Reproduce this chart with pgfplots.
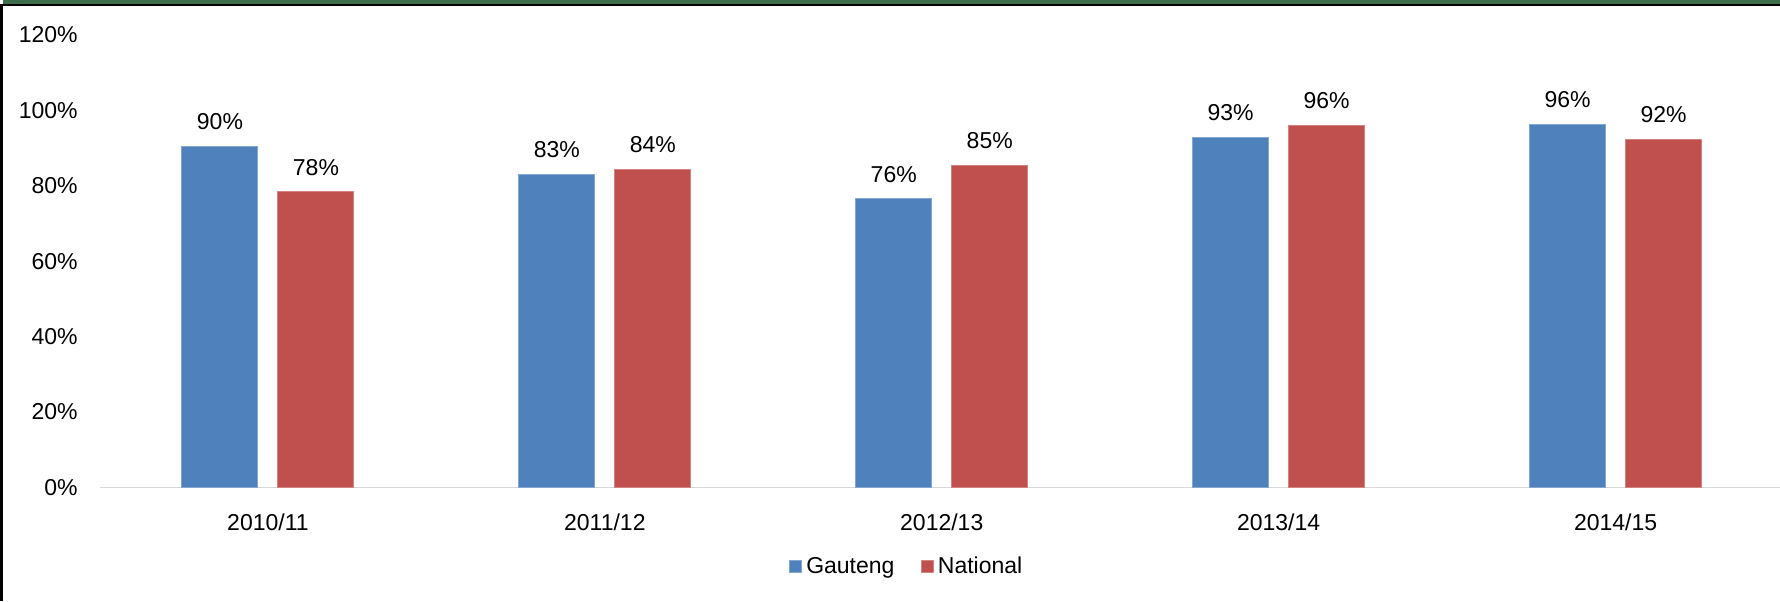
\documentclass[border=0pt]{standalone}
\usepackage{fontspec}
\setmainfont{Liberation Sans}
\usepackage{pgfplots}
\pgfplotsset{compat=1.18}
\definecolor{gblue}{HTML}{4F81BD}
\definecolor{nred}{HTML}{C0504D}
\definecolor{axgray}{HTML}{D9D9D9}
\definecolor{topgreen}{HTML}{3D6E4B}
\newcommand{\cf}{\fontsize{11.5}{14}\selectfont}
\begin{document}
\begin{tikzpicture}[x=1pt,y=1pt]
\useasboundingbox (0,0) rectangle (890,300.5);
\fill[white] (0,0) rectangle (890,300.5);
\fill[topgreen] (1.5,298.5) rectangle (890,300.5);
\fill[black] (0,297.25) rectangle (890,298.5);
\fill[black] (0,0) rectangle (1.25,298.5);
\begin{axis}[
  at={(49.75pt,56.85pt)}, anchor=south west,
  scale only axis, width=842.25pt, height=226.15pt,
  xmin=-0.5, xmax=4.5, ymin=0, ymax=120,
  enlarge x limits=false, enlarge y limits=false,
  ybar=10pt, bar width=38pt,
  axis x line*=bottom, axis y line*=left,
  x axis line style={-, draw=axgray, line width=0.75pt},
  y axis line style={draw=none},
  tick style={draw=none}, major tick length=0pt,
  xtick={0,1,2,3,4},
  xticklabels={2010/11,2011/12,2012/13,2013/14,2014/15},
  ytick={0,20,40,60,80,100,120},
  yticklabels={0\%,20\%,40\%,60\%,80\%,100\%,120\%},
  tick label style={font=\cf},
  yticklabel style={inner sep=0pt, anchor=east, xshift=-10.75pt},
  xticklabel style={inner sep=0pt, anchor=north, yshift=-13pt},
  nodes near coords, point meta=explicit symbolic,
  nodes near coords style={font=\cf, inner sep=0pt, anchor=south, yshift=8pt, text=black},
  legend style={draw=none, fill=none, legend columns=2, at={(0.4797,-0.1755)}, anchor=center, font=\cf,
    /tikz/every even column/.append style={column sep=11pt}},
  legend image code/.code={\fill[#1] (0pt,-3.1pt) rectangle (6.2pt,3.1pt);},
]
\addplot[fill=gblue, draw=gblue!70!white, line width=0.5pt] coordinates {
  (0,90.4) [90\%] (1,83.1) [83\%] (2,76.5) [76\%] (3,92.9) [93\%] (4,96.2) [96\%]
};
\addplot[fill=nred, draw=nred!70!white, line width=0.5pt] coordinates {
  (0,78.4) [78\%] (1,84.4) [84\%] (2,85.4) [85\%] (3,96.1) [96\%] (4,92.4) [92\%]
};
\legend{Gauteng, National}
\end{axis}
\end{tikzpicture}
\end{document}
